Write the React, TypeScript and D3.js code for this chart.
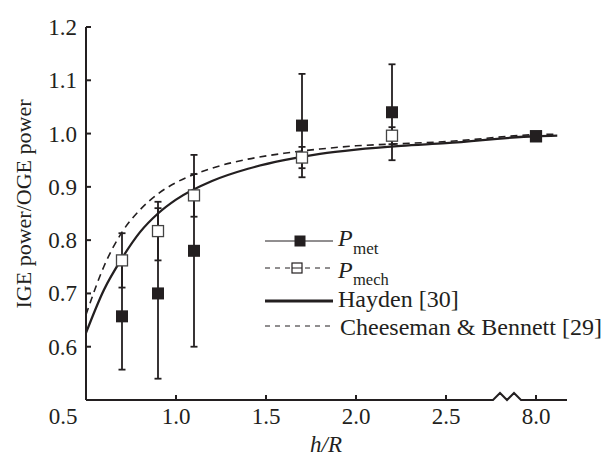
import React from "react";
import * as d3 from "d3";

// h/R of the measurements
const heights = [0.7, 0.9, 1.1, 1.7, 2.2, 8.0];
const metMean = [0.657, 0.7, 0.78, 1.015, 1.04, 0.995];
const metErr = [0.1, 0.16, 0.18, 0.097, 0.09, 0];
const mechMean = [0.762, 0.817, 0.884, 0.955, 0.996, 0.995];
const mechErr = [0.051, 0.055, 0.04, 0.02, 0.016, 0];

// model curves
const curveH = [0.5, 0.6, 0.7, 0.8, 0.9, 1.0, 1.2, 1.4, 1.6, 1.8, 2.0, 2.25, 2.5, 8.0, 9.3];
const hayden = [0.626, 0.707, 0.766, 0.815, 0.85, 0.876, 0.911, 0.934, 0.95, 0.962, 0.97, 0.977, 0.982, 0.995, 0.996];
const cheeseman = [0.66, 0.751, 0.815, 0.857, 0.887, 0.908, 0.935, 0.952, 0.963, 0.971, 0.977, 0.981, 0.985, 0.998, 0.999];

const xTicks = [0.5, 1.0, 1.5, 2.0, 2.5, 8.0];
const yTicks = [0.6, 0.7, 0.8, 0.9, 1.0, 1.1, 1.2];

const ink = "#231f20";
const serif = '"Liberation Serif", "DejaVu Serif", serif';

const App = () => {
  const left = 86;
  const right = 567;
  const top = 27;
  const bottom = 400;

  // broken axis: 8.0 sits where 3.0 would be
  const x = d3.scaleLinear().domain([0.5, 2.5, 8.0]).range([left, 446, 536]);
  const y = d3.scaleLinear().domain([0.5, 1.2]).range([bottom, top]);

  const lineGen = (vals: number[]) =>
    d3
      .line<number>()
      .x((_, i) => x(curveH[i]))
      .y((d) => y(d))
      .curve(d3.curveMonotoneX)(vals) as string;

  const brk0 = 493;
  const axisPath = `M${left},${bottom}H${brk0}l7,-7l7,7l7,-7l7,7H${right}`;

  const cap = 3.5;
  const bar = (hv: number, m: number, e: number, key: string) =>
    e > 0 ? (
      <g key={key} stroke={ink} strokeWidth={1.8}>
        <line x1={x(hv)} x2={x(hv)} y1={y(m - e)} y2={y(m + e)} />
        <line x1={x(hv) - cap} x2={x(hv) + cap} y1={y(m - e)} y2={y(m - e)} />
        <line x1={x(hv) - cap} x2={x(hv) + cap} y1={y(m + e)} y2={y(m + e)} />
      </g>
    ) : null;

  const legX0 = 265;
  const legX1 = 333;
  const legTx = 338;
  const txt = { fontFamily: serif };

  return (
    <svg width={605} height={461} style={{ position: "absolute", left: 0, top: 0, fontFamily: serif }}>
      <rect width={605} height={461} fill="#fff" />

      {/* curves */}
      <path d={lineGen(hayden)} fill="none" stroke={ink} strokeWidth={2.3} />
      <path d={lineGen(cheeseman)} fill="none" stroke={ink} strokeWidth={1.6} strokeDasharray="7,5" />

      {/* error bars */}
      {heights.map((hv, i) => bar(hv, metMean[i], metErr[i], "m" + i))}
      {heights.map((hv, i) => bar(hv, mechMean[i], mechErr[i], "c" + i))}

      {/* markers */}
      {heights.map((hv, i) => (
        <rect key={"cs" + i} x={x(hv) - 5.5} y={y(mechMean[i]) - 5.5} width={11} height={11} fill="#fff" stroke="#444" strokeWidth={1.3} />
      ))}
      {heights.map((hv, i) => (
        <rect key={"ms" + i} x={x(hv) - 6} y={y(metMean[i]) - 6} width={12} height={12} fill={ink} />
      ))}

      {/* axes */}
      <line x1={left} x2={left} y1={top} y2={bottom} stroke={ink} strokeWidth={2} />
      <path d={axisPath} fill="none" stroke={ink} strokeWidth={2} />
      {yTicks.map((t) => (
        <g key={"yt" + t}>
          <line x1={left} x2={left + 5} y1={y(t)} y2={y(t)} stroke={ink} strokeWidth={2} />
          <text x={77} y={y(t) + 8} textAnchor="end" fontSize={23} fill={ink} style={txt}>
            {t.toFixed(1)}
          </text>
        </g>
      ))}
      {xTicks.map((t) => (
        <g key={"xt" + t}>
          {t > 0.5 && <line x1={x(t)} x2={x(t)} y1={bottom} y2={bottom - 5} stroke={ink} strokeWidth={2} />}
          <text x={t === 0.5 ? 63 : x(t)} y={424} textAnchor="middle" fontSize={23} fill={ink} style={txt}>
            {t.toFixed(1)}
          </text>
        </g>
      ))}

      <text x={326} y={452} textAnchor="middle" fontSize={23} fontStyle="italic" fill={ink} style={txt}>
        h/R
      </text>
      <text transform="translate(31,204) rotate(-90)" textAnchor="middle" fontSize={22} fill={ink} style={txt}>
        IGE power/OGE power
      </text>

      {/* legend */}
      <g fill={ink}>
        <line x1={legX0} x2={legX1} y1={241} y2={241} stroke={ink} strokeWidth={1} />
        <rect x={300 - 5.5} y={241 - 5.5} width={11} height={11} />
        <text x={legTx} y={246} fontSize={24} fontStyle="italic" style={txt}>P</text>
        <text x={legTx + 15} y={254} fontSize={17} style={txt}>met</text>

        <line x1={legX0} x2={legX1} y1={268} y2={268} stroke={ink} strokeWidth={1} strokeDasharray="5,5" />
        <rect x={297 - 5} y={268 - 5} width={10} height={10} fill="#fff" stroke={ink} strokeWidth={1.2} />
        <line x1={292} x2={302} y1={268} y2={268} stroke={ink} strokeWidth={1} />
        <text x={legTx} y={278} fontSize={24} fontStyle="italic" style={txt}>P</text>
        <text x={legTx + 15} y={285} fontSize={16.5} style={txt}>mech</text>

        <line x1={legX0} x2={legX1} y1={301} y2={301} stroke={ink} strokeWidth={3} />
        <text x={legTx} y={307} fontSize={24} style={txt}>Hayden [30]</text>

        <line x1={legX0} x2={legX1} y1={326} y2={326} stroke={ink} strokeWidth={1.2} strokeDasharray="5,5" />
        <text x={legTx + 2} y={335} fontSize={24} style={txt}>Cheeseman &amp; Bennett [29]</text>
      </g>
    </svg>
  );
};

export default App;
